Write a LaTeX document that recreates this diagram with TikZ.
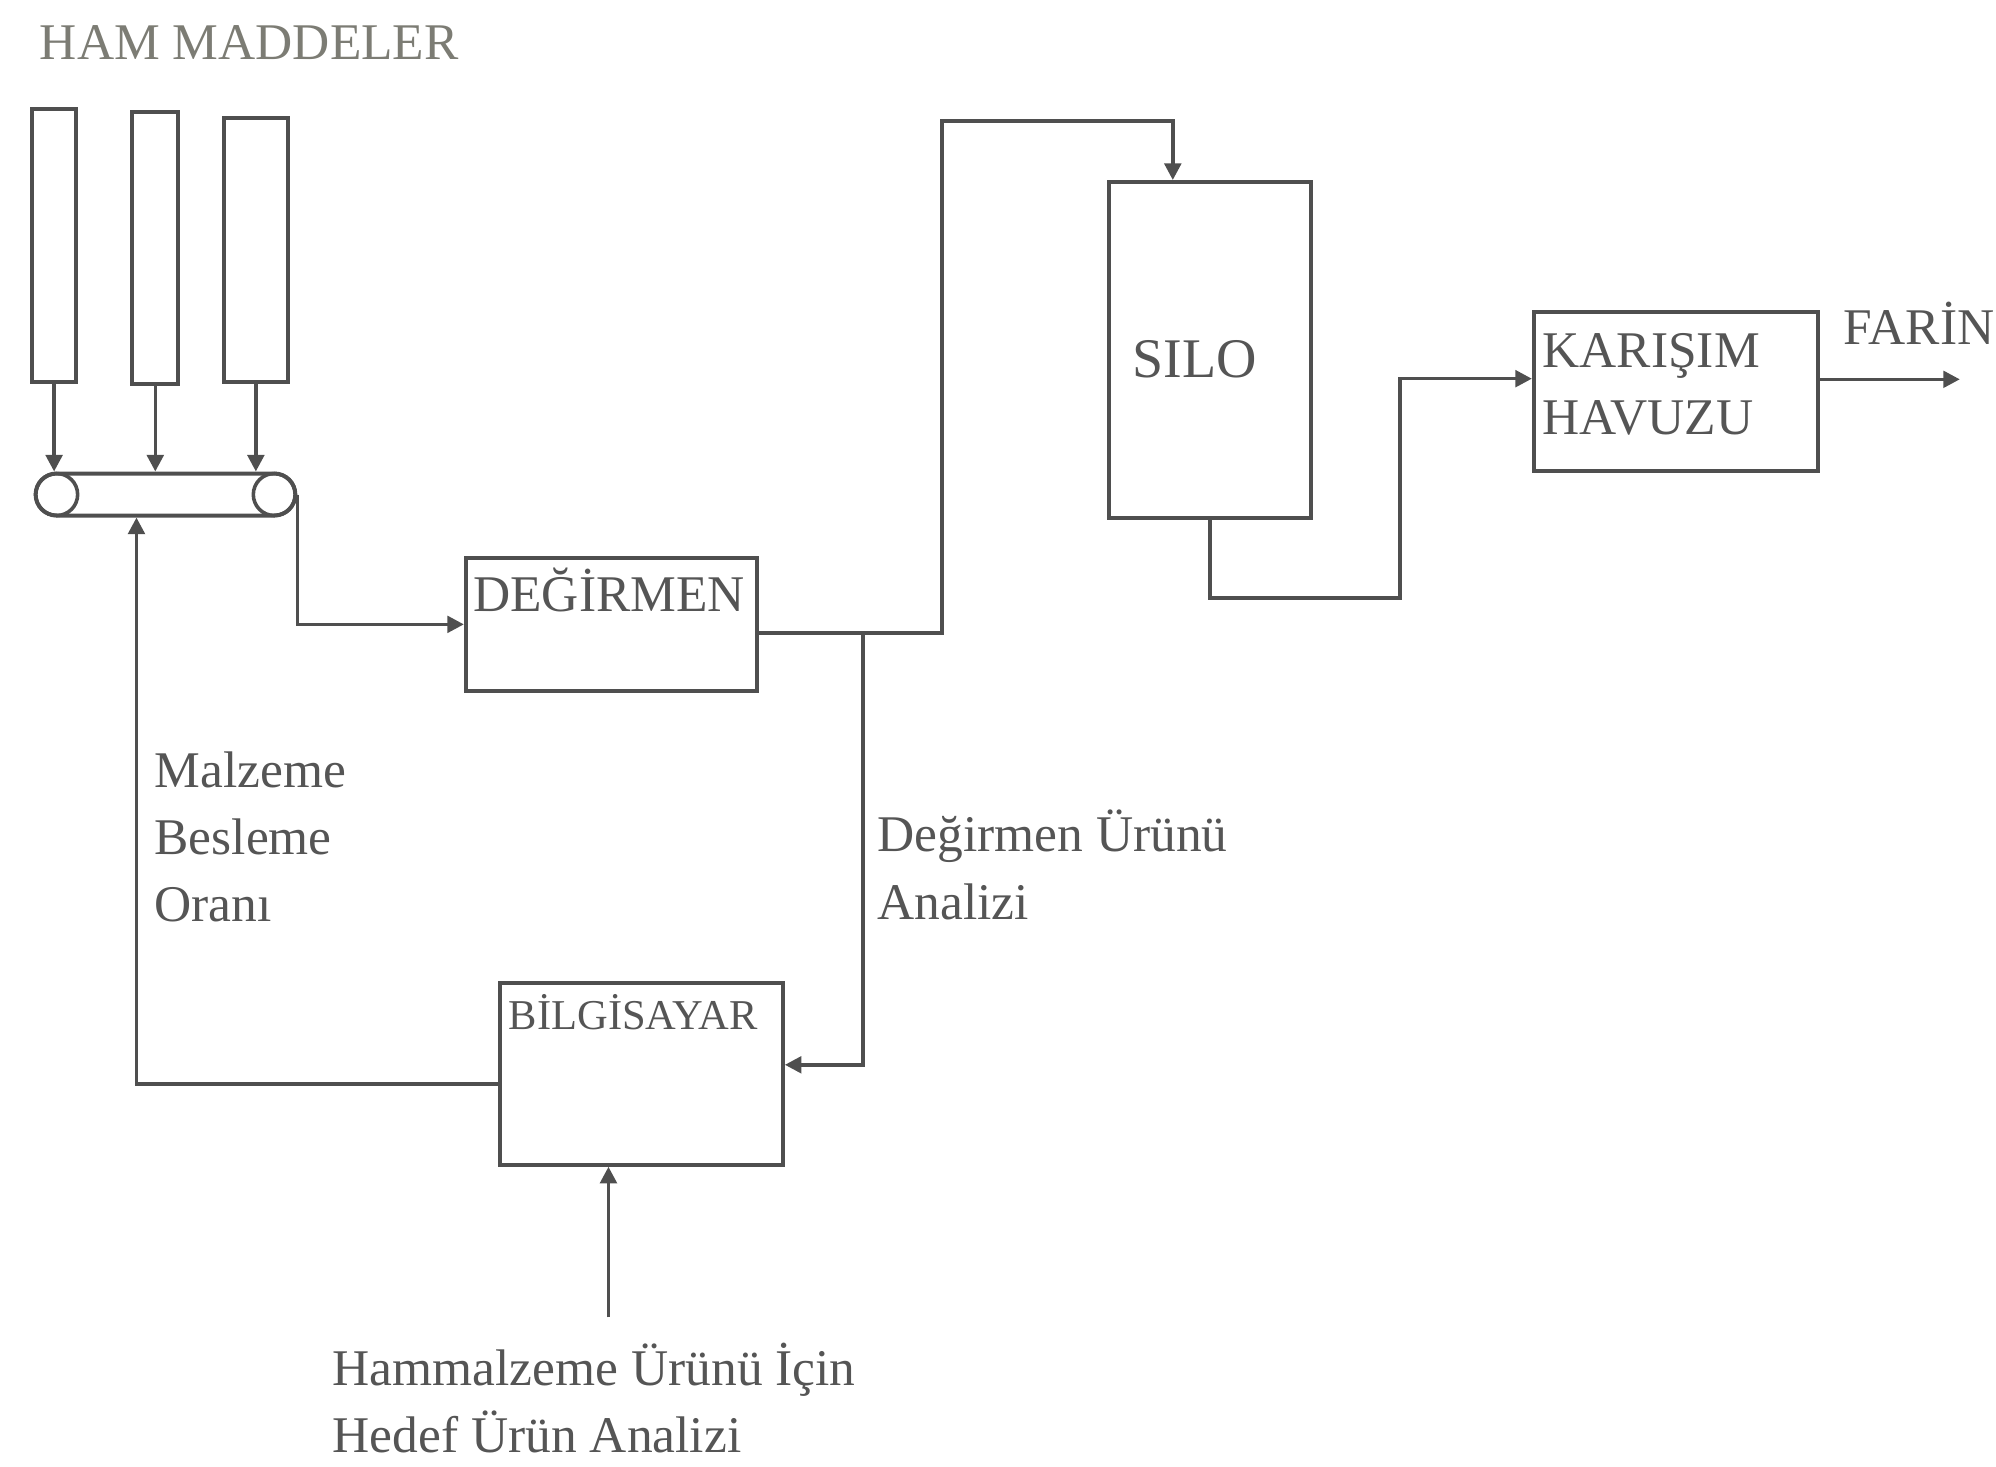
\documentclass[tikz,border=0pt]{standalone}
\usepackage{fontspec}
\setmainfont{Liberation Serif}
\usetikzlibrary{arrows.meta, positioning, calc}
\definecolor{inkcolor}{HTML}{4F4F4F}
\definecolor{mutedtext}{HTML}{555555}
\definecolor{titletext}{HTML}{7C7C74}

\begin{document}
\begin{tikzpicture}[
  x=0.1mm, y=-0.1mm, >=Triangle, line width=0.8pt, inkcolor,
  every node/.style={font=\fontsize{11.5}{15}\selectfont, text=mutedtext},
]

\tikzset{
  unit/.style={rectangle, draw=inkcolor, inner sep=0pt, line width=0.9pt},
  bin/.style={unit, minimum width=3.5mm, minimum height=21.4mm},
  roller/.style={circle, draw=inkcolor, inner sep=0pt, minimum size=3.3mm},
  flowline/.style={-{Triangle[length=1.3mm, width=1.3mm]}, inkcolor},
  tag/.style={inner sep=0pt, anchor=base west, align=left},
}

\useasboundingbox (0,0) rectangle (1568,1152);

% ---- raw material bins + belt ----
\node[tag, text=titletext] (title) at (30,47) {HAM MADDELER};
\node[bin] (bina) at (42.5,193) {};
\node[bin, minimum width=3.6mm] (binb) at (122,195) {};
\node[bin, minimum width=5mm, minimum height=20.7mm] (binc) at (201,196.5) {};

\node[unit, rounded corners=1.65mm, minimum width=20.4mm, minimum height=3.3mm] (belt) at (130,388.5) {};
\node[roller] (rolla) at (44.5,388.5) {};
\node[roller] (rollb) at (215.5,388.5) {};

\foreach \b in {bina, binb, binc}
  \draw[flowline] (\b.south) -- (\b.south |- belt.north);

% ---- mill ----
\node[unit, minimum width=22.9mm, minimum height=10.5mm] (mill) at (480.5,490.5) {};
\node[tag] (milltext) at ($(mill.north west)+(6,44)$) {DEĞİRMEN};
\draw[flowline] (belt.east) |- (mill.west);

% ---- silo ----
\node[unit, minimum width=15.9mm, minimum height=26.4mm] (silo) at (950.5,275) {};
\node[tag, font=\fontsize{12.5}{15}\selectfont] (silotext) at ($(silo.north west)+(19,155)$) {SILO};

\coordinate (riser) at (740,95);
\coordinate (siloin) at ($(silo.north west)!0.32!(silo.north east)$);
\draw[flowline] ($(mill.east)+(0,7)$) -| (riser) -| (siloin);

% ---- mixing pool ----
\node[unit, minimum width=22.3mm, minimum height=12.5mm] (mix) at (1316.5,307.5) {};
\node[tag] (mixtext) at ($(mix.north west)+(7,98)$) {KARIŞIM\\HAVUZU};

\coordinate (silobend) at (1100,470);
\draw[flowline] (silo.south) |- (silobend) |- ($(mix.west)+(0,-10)$);

\coordinate (farinend) at ($(mix.east)+(110,-9.5)$);
\draw[flowline] ($(mix.east)+(0,-9.5)$) -- (farinend);
\node[tag] (farin) at (1447,271) {FARİN};

% ---- computer loop ----
\node[unit, minimum width=22.2mm, minimum height=14.3mm] (pc) at (504,843.5) {};
\node[tag, font=\fontsize{9.5}{12}\selectfont] (pctext) at ($(pc.north west)+(7,38)$) {BİLGİSAYAR};

\coordinate (tap) at (678,497.5);
\draw[flowline] (tap) |- ($(pc.east)+(0,-7)$);

\coordinate (feedin) at ($(belt.south west)!0.39!(belt.south east)$);
\draw[flowline] ($(pc.west)+(0,8)$) -| (feedin);

\coordinate (target) at (478,1035);
\draw[flowline] (target) -- (target |- pc.south);

% ---- signal labels (base = last line) ----
\node[tag] (ratelabel) at (120,724) {Malzeme\\Besleme\\Oranı};
\node[tag] (analysislabel) at (688,722) {Değirmen Ürünü\\Analizi};
\node[tag] (targetlabel) at (260,1141) {Hammalzeme Ürünü İçin\\Hedef Ürün Analizi};

\end{tikzpicture}
\end{document}
